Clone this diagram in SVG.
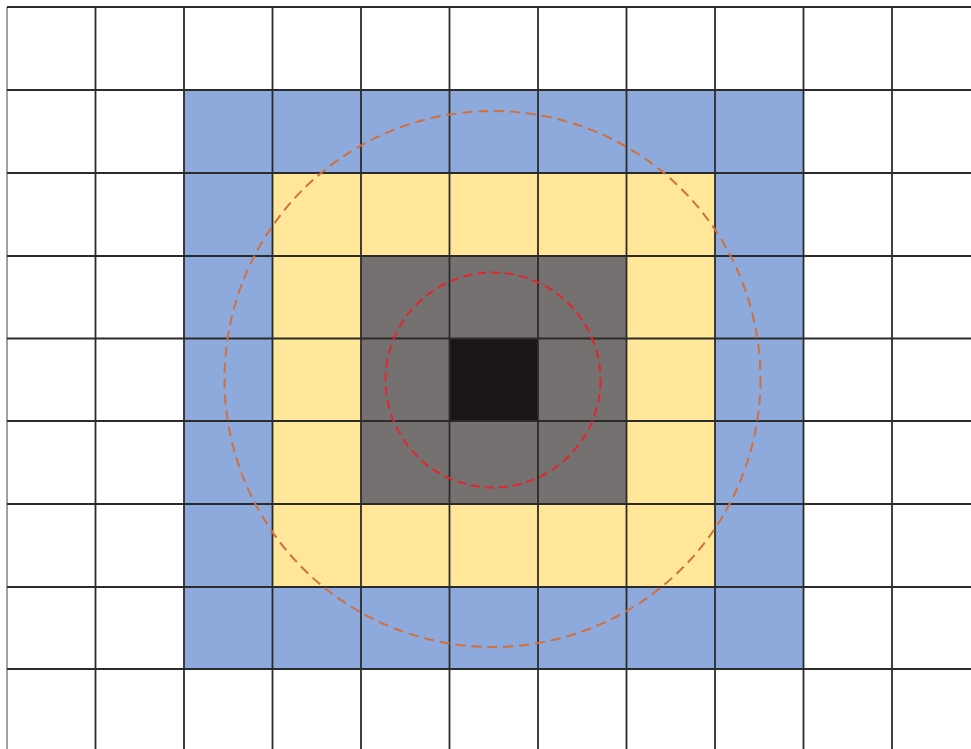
<svg xmlns="http://www.w3.org/2000/svg" width="971" height="749" viewBox="0 0 971 749">
<style>
.g{stroke:#2b2b2b;stroke-width:1.8;fill:none}
.edge{stroke:#8a8a8a;stroke-width:1.6}
</style>
<rect width="971" height="749" fill="#ffffff"/>
<g id="fills">
<rect x="184" y="90" width="619.5" height="579" fill="#8EA9DB"/>
<rect x="272.5" y="173" width="442.5" height="414" fill="#FFE699"/>
<rect x="361" y="256" width="265.5" height="248" fill="#767171"/>
<rect x="449.5" y="338.5" width="88.5" height="82.5" fill="#1A1617"/>
</g>
<g id="grid" class="g">
<line x1="7" y1="7" x2="7" y2="749" class="edge"/>
<line x1="95.5" y1="7" x2="95.5" y2="749"/>
<line x1="184" y1="7" x2="184" y2="749"/>
<line x1="272.5" y1="7" x2="272.5" y2="749"/>
<line x1="361" y1="7" x2="361" y2="749"/>
<line x1="449.5" y1="7" x2="449.5" y2="749"/>
<line x1="538" y1="7" x2="538" y2="749"/>
<line x1="626.5" y1="7" x2="626.5" y2="749"/>
<line x1="715" y1="7" x2="715" y2="749"/>
<line x1="803.5" y1="7" x2="803.5" y2="749"/>
<line x1="892" y1="7" x2="892" y2="749"/>
<line x1="7" y1="7" x2="971" y2="7"/>
<line x1="7" y1="90" x2="971" y2="90"/>
<line x1="7" y1="173" x2="971" y2="173"/>
<line x1="7" y1="256" x2="971" y2="256"/>
<line x1="7" y1="338.5" x2="971" y2="338.5"/>
<line x1="7" y1="421" x2="971" y2="421"/>
<line x1="7" y1="504" x2="971" y2="504"/>
<line x1="7" y1="587" x2="971" y2="587"/>
<line x1="7" y1="669" x2="971" y2="669"/>
</g>
<g id="circles">
<circle cx="492.5" cy="379" r="268" fill="none" stroke="#D0703C" stroke-width="2" stroke-dasharray="10 6"/>
<circle cx="493" cy="380" r="107.5" fill="none" stroke="#E0262E" stroke-width="2" stroke-dasharray="9 5"/>
</g>
</svg>
